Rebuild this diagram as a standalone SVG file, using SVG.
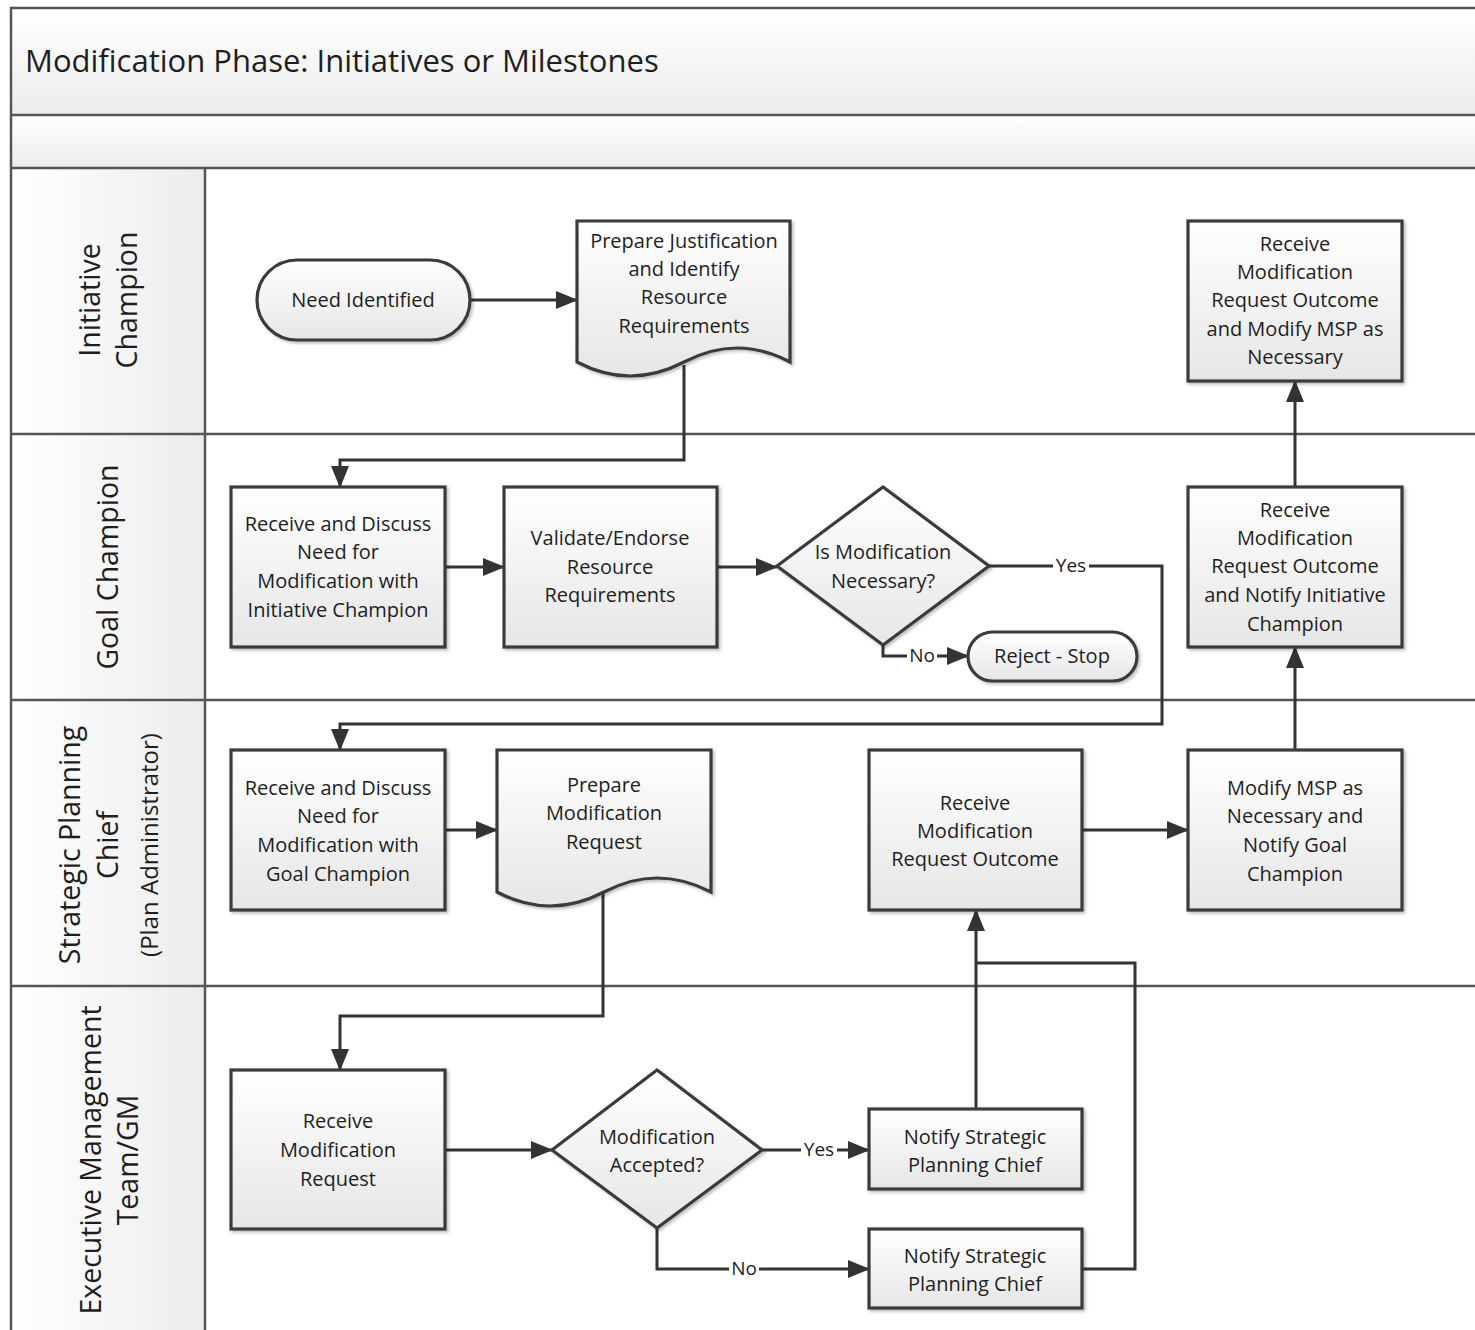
<svg xmlns="http://www.w3.org/2000/svg" width="1475" height="1330" viewBox="0 0 1475 1330">
<defs>
<linearGradient id="gNode" x1="0" y1="0" x2="0" y2="1">
<stop offset="0" stop-color="#ffffff"/><stop offset="1" stop-color="#e6e6e6"/>
</linearGradient>
<linearGradient id="gBand" x1="0" y1="0" x2="0" y2="1">
<stop offset="0" stop-color="#ffffff"/><stop offset="1" stop-color="#ececec"/>
</linearGradient>
<linearGradient id="gLane" x1="0" y1="0" x2="1" y2="0">
<stop offset="0" stop-color="#ffffff"/><stop offset="1" stop-color="#ececec"/>
</linearGradient>
<filter id="sh" x="-10%" y="-10%" width="130%" height="130%">
<feDropShadow dx="2" dy="2" stdDeviation="1.5" flood-color="#000" flood-opacity="0.25"/>
</filter>
<marker id="ah" viewBox="0 0 22 18" refX="21" refY="9" markerWidth="22" markerHeight="18" orient="auto" markerUnits="userSpaceOnUse">
<path d="M0,0 L22,9 L0,18 z" fill="#333"/>
</marker>
<style>
.shape{fill:url(#gNode);stroke:#3a3a3a;stroke-width:3.2;filter:url(#sh)}
.t{font-family:"Open Sans","Noto Sans","Liberation Sans",sans-serif;font-size:20px;fill:#1e1e1e;text-anchor:middle}
.lane{font-family:"Open Sans","Noto Sans","Liberation Sans",sans-serif;font-size:28.5px;fill:#1e1e1e;text-anchor:middle}
.sub{font-size:24px}
.title{font-family:"Open Sans","Noto Sans","Liberation Sans",sans-serif;font-size:31px;fill:#1e1e1e}
.grid{stroke:#555;stroke-width:2.5;fill:none}
.c{fill:none;stroke:#333;stroke-width:3}
.ca{fill:none;stroke:#333;stroke-width:3;marker-end:url(#ah)}
.lbl{font-family:"Open Sans","Noto Sans","Liberation Sans",sans-serif;font-size:19px;fill:#1e1e1e;text-anchor:middle}
.lbg{fill:#fff}
</style>
</defs>
<rect x="0" y="0" width="1475" height="1330" fill="#fff"/>
<g id="pool">
<rect x="11" y="8" width="1470" height="107" fill="url(#gBand)"/>
<rect x="11" y="115" width="1470" height="53" fill="url(#gBand)"/>
<rect x="11" y="168" width="194" height="1170" fill="url(#gLane)"/>
<path class="grid" d="M11,1335 V8 H1480 M11,115 H1480 M11,168 H1480 M11,434 H1480 M11,700 H1480 M11,986 H1480 M205,168 V1335"/>
<text class="title" x="25" y="72">Modification Phase: Initiatives or Milestones</text>
</g>
<g id="lanes">
<g id="lane-initiative" transform="translate(0,300) rotate(-90)">
<text class="lane" x="0" y="100">Initiative</text>
<text class="lane" x="0" y="137">Champion</text>
</g>
<g id="lane-goal" transform="translate(0,567) rotate(-90)">
<text class="lane" x="0" y="118">Goal Champion</text>
</g>
<g id="lane-spc" transform="translate(0,845) rotate(-90)">
<text class="lane" x="0" y="80">Strategic Planning</text>
<text class="lane" x="0" y="118">Chief</text>
<text class="lane sub" x="0" y="158">(Plan Administrator)</text>
</g>
<g id="lane-emt" transform="translate(0,1160) rotate(-90)">
<text class="lane" x="0" y="101">Executive Management</text>
<text class="lane" x="0" y="138">Team/GM</text>
</g>
</g>
<g id="connectors">
<path class="ca" d="M470,300 H577"/>
<path class="ca" d="M684,365 V460 H340 V487"/>
<path class="ca" d="M445,567 H504"/>
<path class="ca" d="M717,567 H777"/>
<path class="ca" d="M989,566 H1162 V724 H340 V750"/>
<path class="ca" d="M883,645 V656 H968"/>
<path class="ca" d="M1295,487 V381"/>
<path class="ca" d="M445,830 H497"/>
<path class="ca" d="M603,888 V1016 H340 V1070"/>
<path class="ca" d="M1082,830 H1188"/>
<path class="ca" d="M1295,750 V647"/>
<path class="ca" d="M445,1150 H552"/>
<path class="ca" d="M762,1150 H869"/>
<path class="ca" d="M657,1228 V1269 H869"/>
<path class="ca" d="M976,1109 V910"/>
<path class="c" d="M1082,1269 H1135 V963 H976"/>
<g id="labels">
<rect class="lbg" x="1053" y="555" width="36" height="22"/><text class="lbl" x="1071" y="572">Yes</text>
<rect class="lbg" x="907" y="645" width="30" height="22"/><text class="lbl" x="922" y="662">No</text>
<rect class="lbg" x="801" y="1139" width="36" height="22"/><text class="lbl" x="819" y="1156">Yes</text>
<rect class="lbg" x="729" y="1258" width="30" height="22"/><text class="lbl" x="744" y="1275">No</text>
</g>
</g>
<g id="n_need"><rect class="shape" x="257" y="260" width="213" height="80" rx="40"/>
<text class="t" x="363" y="307">Need Identified</text></g>
<g id="n_prepjust"><path class="shape" d="M577,221 H790 V362 Q737,334 684,362 Q630,390 577,362 Z"/>
<text class="t"><tspan x="684" y="248">Prepare Justification</tspan><tspan x="684" y="276">and Identify</tspan><tspan x="684" y="304">Resource</tspan><tspan x="684" y="333">Requirements</tspan></text></g>
<g id="n_recdisc1"><rect class="shape" x="231" y="487" width="214" height="160"/>
<text class="t"><tspan x="338" y="531">Receive and Discuss</tspan><tspan x="338" y="559">Need for</tspan><tspan x="338" y="588">Modification with</tspan><tspan x="338" y="617">Initiative Champion</tspan></text></g>
<g id="n_validate"><rect class="shape" x="504" y="487" width="213" height="160"/>
<text class="t"><tspan x="610" y="545">Validate/Endorse</tspan><tspan x="610" y="574">Resource</tspan><tspan x="610" y="602">Requirements</tspan></text></g>
<g id="d_necessary"><path class="shape" d="M883,487 L989,566 L883,645 L777,566 Z"/>
<text class="t"><tspan x="883" y="559">Is Modification</tspan><tspan x="883" y="588">Necessary?</tspan></text></g>
<g id="n_reject"><rect class="shape" x="968" y="632" width="169" height="49" rx="24.5"/>
<text class="t" x="1052" y="663">Reject - Stop</text></g>
<g id="n_recnotify"><rect class="shape" x="1188" y="487" width="214" height="160"/>
<text class="t"><tspan x="1295" y="517">Receive</tspan><tspan x="1295" y="545">Modification</tspan><tspan x="1295" y="573">Request Outcome</tspan><tspan x="1295" y="602">and Notify Initiative</tspan><tspan x="1295" y="631">Champion</tspan></text></g>
<g id="n_recmodify"><rect class="shape" x="1188" y="221" width="214" height="160"/>
<text class="t"><tspan x="1295" y="251">Receive</tspan><tspan x="1295" y="279">Modification</tspan><tspan x="1295" y="307">Request Outcome</tspan><tspan x="1295" y="336">and Modify MSP as</tspan><tspan x="1295" y="364">Necessary</tspan></text></g>
<g id="n_recdisc2"><rect class="shape" x="231" y="750" width="214" height="160"/>
<text class="t"><tspan x="338" y="795">Receive and Discuss</tspan><tspan x="338" y="823">Need for</tspan><tspan x="338" y="852">Modification with</tspan><tspan x="338" y="881">Goal Champion</tspan></text></g>
<g id="n_prepmod"><path class="shape" d="M497,750 H711 V892 Q657,864 604,892 Q550,920 497,892 Z"/>
<text class="t"><tspan x="604" y="792">Prepare</tspan><tspan x="604" y="820">Modification</tspan><tspan x="604" y="849">Request</tspan></text></g>
<g id="n_recoutcome"><rect class="shape" x="869" y="750" width="213" height="160"/>
<text class="t"><tspan x="975" y="810">Receive</tspan><tspan x="975" y="838">Modification</tspan><tspan x="975" y="866">Request Outcome</tspan></text></g>
<g id="n_modifymsp"><rect class="shape" x="1188" y="750" width="214" height="160"/>
<text class="t"><tspan x="1295" y="795">Modify MSP as</tspan><tspan x="1295" y="823">Necessary and</tspan><tspan x="1295" y="852">Notify Goal</tspan><tspan x="1295" y="881">Champion</tspan></text></g>
<g id="n_recmodreq"><rect class="shape" x="231" y="1070" width="214" height="159"/>
<text class="t"><tspan x="338" y="1128">Receive</tspan><tspan x="338" y="1157">Modification</tspan><tspan x="338" y="1186">Request</tspan></text></g>
<g id="d_accepted"><path class="shape" d="M657,1070 L762,1150 L657,1228 L552,1150 Z"/>
<text class="t"><tspan x="657" y="1144">Modification</tspan><tspan x="657" y="1172">Accepted?</tspan></text></g>
<g id="n_notify1"><rect class="shape" x="869" y="1109" width="213" height="80"/>
<text class="t"><tspan x="975" y="1144">Notify Strategic</tspan><tspan x="975" y="1172">Planning Chief</tspan></text></g>
<g id="n_notify2"><rect class="shape" x="869" y="1229" width="213" height="79"/>
<text class="t"><tspan x="975" y="1263">Notify Strategic</tspan><tspan x="975" y="1291">Planning Chief</tspan></text></g>
</svg>
